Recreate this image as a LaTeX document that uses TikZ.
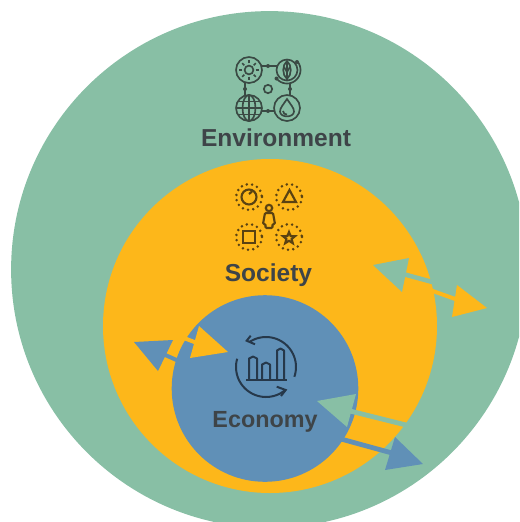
\documentclass[tikz,border=0pt]{standalone}
\usepackage{fontspec}
\setmainfont{Liberation Sans}
\definecolor{envgreen}{HTML}{88BFA5}
\definecolor{socyellow}{HTML}{FDB71A}
\definecolor{ecoblue}{HTML}{6090B7}
\definecolor{labelgrey}{HTML}{3E4448}
\definecolor{envink}{HTML}{3A4A44}
\definecolor{socink}{HTML}{5A4212}
\definecolor{ecoink}{HTML}{26384A}
\tikzset{
  label text/.style={font=\bfseries\fontsize{18.4}{20}\selectfont,text=labelgrey,inner sep=0pt,anchor=base},
  envline/.style={draw=envink,line width=1.25pt},
  socline/.style={draw=socink,line width=1.6pt},
  socdots/.style={draw=socink,line width=2.1pt,line cap=round,dash pattern=on 0pt off 4pt},
  ecoline/.style={draw=ecoink,line width=1.5pt},
  shaft/.style={line width=3pt}
}
\begin{document}
\begin{tikzpicture}[x=0.75pt,y=-0.75pt]
\useasboundingbox (0,0) rectangle (519,522);
\clip (0,0) rectangle (519,522);
% nested circles
\fill[envgreen] (269.5,269.5) circle[radius=258.4];
\fill[socyellow] (270,326) circle[radius=167];
\fill[ecoblue] (265,388.5) circle[radius=93.3];

% left pair of arrows
\draw[ecoblue,shaft] (163,354) -- (181,362);
\fill[ecoblue] (134,342) -- (173,340) -- (158,371) -- cycle;
\draw[socyellow,shaft] (176,335) -- (197,343);
\fill[socyellow] (199,326) -- (228,352) -- (190,358) -- cycle;

% upper right pair of arrows
\draw[envgreen,shaft,line width=3.4pt] (403,274) -- (436,283);
\fill[envgreen] (373,265) -- (409,258) -- (402,292) -- cycle;
\draw[socyellow,shaft] (430,290) -- (458,300);
\fill[socyellow] (457,285) -- (487,308) -- (452,317) -- cycle;

% lower right pair of arrows
\draw[envgreen,shaft,line width=3.6pt] (348,410.5) -- (408,425.5);
\fill[envgreen] (317,401) -- (356,394) -- (347,427) -- cycle;
\draw[ecoblue,shaft,line width=3.6pt] (341,439) -- (392,453);
\fill[ecoblue] (395,437) -- (423,464) -- (385,470) -- cycle;

% Environment icon
\foreach \cx/\cy in {249/70,249/108,287/108}{\draw[envline] (\cx,\cy) circle[radius=13];}
\draw[envline] (287,70) circle[radius=10.5];
\draw[envline,smooth] plot[domain=36:-142,samples=30] ({287+13.5*cos(\x)},{70-13.5*sin(\x)});
\draw[envline] (268,89) circle[radius=4.2];
\draw[envline] (262,66) -- (277,66) (262,111) -- (274,111) (245,83) -- (245,95) (290,83) -- (290,95);
\foreach \cx/\cy in {268/66,268/111,245/89,290/89,276.5/78.5,297/62}{\fill[envink] (\cx,\cy) circle[radius=2];}
% sun
\draw[envline] (249,70) circle[radius=4.4];
\foreach \a in {0,45,...,315}{\draw[envline] ({249+6.6*cos(\a)},{70+6.6*sin(\a)}) -- ({249+9.6*cos(\a)},{70+9.6*sin(\a)});}
% leaf
\draw[envline] (287,61) .. controls (282,65) and (282,75) .. (287,79) .. controls (292,75) and (292,65) .. (287,61) -- cycle;
\draw[envline] (287,63) -- (287,80) (284,67) -- (287,72) (290,67) -- (287,72);
% globe
\draw[envline] (249,108) ellipse[x radius=6.5,y radius=13];
\draw[envline] (249,95) -- (249,121) (236,108) -- (262,108);
\draw[envline] (238,101.5) -- (260,101.5) (238,114.5) -- (260,114.5);
% drop
\draw[envline] (287,99) .. controls (283,105) and (280,108) .. (280,111.5) .. controls (280,118) and (294,118) .. (294,111.5) .. controls (294,108) and (291,105) .. (287,99) -- cycle;
\draw[envline] (283,111) .. controls (283,113.5) and (285,114.5) .. (287,114.5);

% Society icon
\foreach \cx/\cy in {249/197,289/197,249/237,289/237}{\draw[socdots] (\cx,\cy) circle[radius=13];}
\draw[socline] (249,197) circle[radius=7.5];
\draw[socline] (249,194) -- (252,191.5);
\draw[socline,line join=miter] (283,202) -- (296,202) -- (289.5,190) -- cycle;
\draw[socline] (243,231) rectangle (255,243);
\draw[socline] (289,232) -- (290.6,236) -- (295,236.2) -- (291.6,239) -- (292.8,243.2) -- (289,240.8) -- (285.2,243.2) -- (286.4,239) -- (283,236.2) -- (287.4,236) -- cycle;
\draw[socline] (269,208) circle[radius=3.2];
\draw[socline,rounded corners=0.8pt] (265,213) -- (273,213) -- (275,224) -- (272.5,224) -- (272.5,228) -- (265.5,228) -- (265.5,224) -- (263,224) -- cycle;

% Economy icon
\draw[ecoline,smooth] plot[domain=124:-19,samples=30] ({266+30*cos(\x)},{367-30*sin(\x)});
\draw[ecoline,smooth] plot[domain=-51:-196,samples=30] ({266+30*cos(\x)},{367-30*sin(\x)});
\draw[ecoline,line join=miter] (250.7,335.7) -- (246.7,340.7) -- (255,344.3);
\draw[ecoline,line join=miter] (276.7,386.7) -- (285.7,390) -- (281,396);
\draw[ecoline,line join=round] (249,380) -- (249,358.5) -- (253,356.5) -- (257,358.5) -- (257,380);
\draw[ecoline,line join=round] (262,380) -- (262,364.5) -- (266,362.5) -- (270,364.5) -- (270,380);
\draw[ecoline,line join=round] (277,380) -- (277,350.5) -- (280.5,348.5) -- (284,350.5) -- (284,380);
\draw[ecoline] (246,380) -- (287,380);

% labels
\node[label text] (envlabel) at (276,146) {Environment};
\node[label text] (soclabel) at (268.5,281) {Society};
\node[label text,font=\bfseries\fontsize{17.5}{20}\selectfont] (ecolabel) at (265,427) {Economy};
\end{tikzpicture}
\end{document}
